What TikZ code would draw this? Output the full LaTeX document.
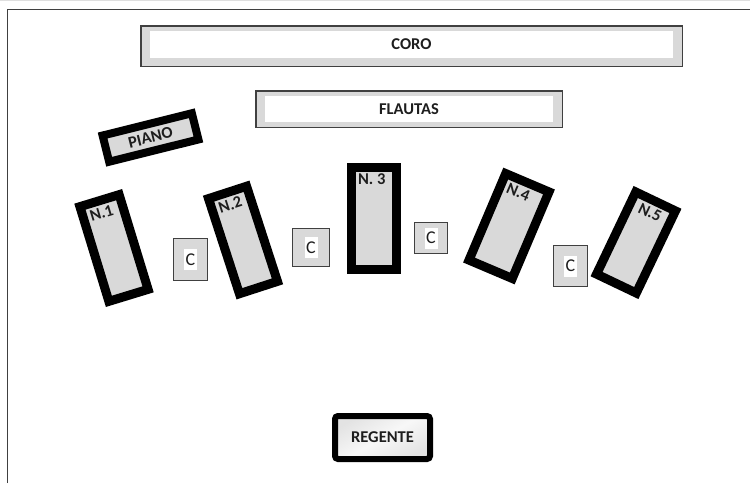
\documentclass[tikz,border=0pt]{standalone}
\usepackage{fontspec}
\setmainfont{Carlito}
\definecolor{fillg}{HTML}{D9D9D9}
\definecolor{edgeg}{HTML}{404040}
\definecolor{txt}{HTML}{1E1E1E}
\begin{document}
\begin{tikzpicture}[x=1pt,y=-1pt,
  lbl/.style={font=\bfseries\fontsize{16.5}{18}\selectfont, text=txt},
  bar/.style={draw=edgeg, line width=1.5pt, fill=fillg, inner sep=0pt, outer sep=0pt},
  barin/.style={fill=white, inner sep=0pt, outer sep=0pt, lbl},
  stand/.style={draw=black, line width=9pt, fill=fillg, inner sep=7pt, outer sep=0pt, lbl},
  chair/.style={draw=edgeg, line width=1.3pt, fill=fillg, inner sep=0pt, outer sep=0pt},
  chairin/.style={fill=white, inner sep=0pt, outer sep=0pt, minimum width=13pt, minimum height=21pt,
    font=\fontsize{18}{19}\selectfont, text=txt}
]
\useasboundingbox (0,0) rectangle (750,483);
% frame
\draw[gray!25, line width=1pt] (0,0.5) -- (750,0.5);
\draw[edgeg, line width=1.5pt] (7.5,483) -- (7.5,9.5) -- (750,9.5);

% CORO
\node[bar, minimum width=541.5, minimum height=40.5] (coro) at (411.5,46) {};
\node[barin, minimum width=523, minimum height=27] (corot) at (411.5,44.5) {CORO};
% FLAUTAS
\node[bar, minimum width=306.5, minimum height=36.5] (flautas) at (409,109) {};
\node[barin, minimum width=288, minimum height=26] (flautast) at (409,109) {FLAUTAS};

% PIANO
\node[stand, line width=8pt, inner sep=0pt, rotate=14, minimum width=92, minimum height=27] (piano) at (150.5,137.5) {PIANO};

% Stands
\node[stand, rotate=17] (n1) at (114,248) {\parbox[c][85pt][t]{27pt}{\raggedright N.1}};
\node[stand, rotate=18] (n2) at (243,240) {\parbox[c][86pt][t]{26pt}{\raggedright N.2}};
\node[stand] (n3) at (373.5,218) {\parbox[c][88pt][t]{31pt}{\raggedright N. 3}};
\node[stand, rotate=-23] (n4) at (509,226) {\parbox[c][80pt][t]{33pt}{\raggedright N.4}};
\node[stand, rotate=-25.5] (n5) at (636,242.5) {\parbox[c][77pt][t]{30pt}{\raggedright\hspace*{3pt}N.5}};

% Chairs
\node[chair, minimum width=34, minimum height=42] (c1) at (190.5,259.5) {};
\node[chairin] (c1t) at (c1.center) {C};
\node[chair, minimum width=37, minimum height=38] (c2) at (311,247.5) {};
\node[chairin] (c2t) at (c2.center) {C};
\node[chair, minimum width=33, minimum height=31] (c3) at (431,238) {};
\node[chairin] (c3t) at (c3.center) {C};
\node[chair, minimum width=34, minimum height=41] (c4) at (570.5,266) {};
\node[chairin] (c4t) at (c4.center) {C};

% REGENTE
\node[draw=black, line width=6pt, rounded corners=3pt, inner sep=0pt, outer sep=0pt,
  minimum width=95, minimum height=43, lbl,
  left color=gray!22, right color=gray!22, middle color=gray!6, shading angle=30] (regente) at (382.5,437.5) {REGENTE};
\end{tikzpicture}
\end{document}
